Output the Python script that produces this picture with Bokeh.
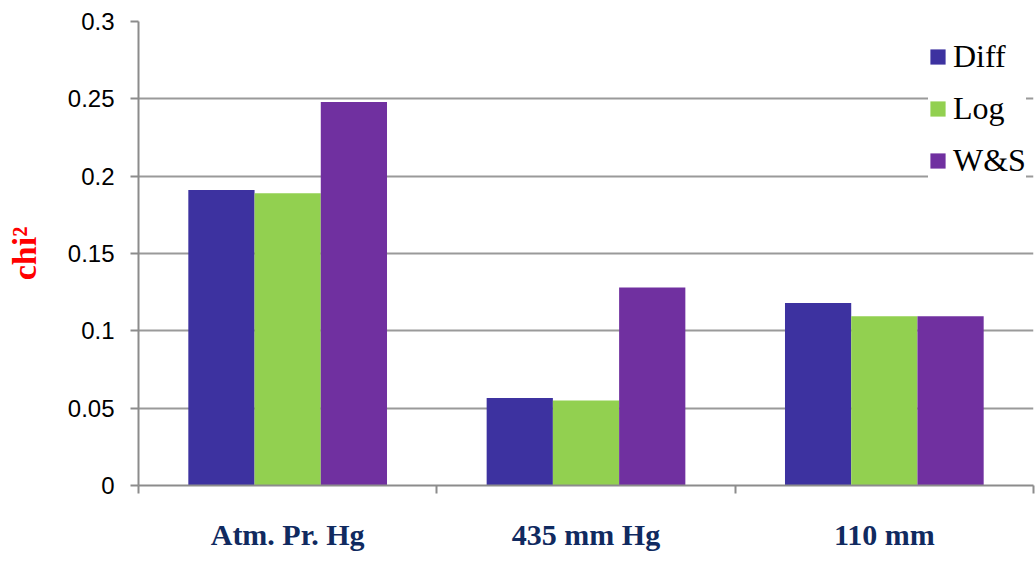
from bokeh.plotting import figure
from bokeh.models import Range1d, FixedTicker, Legend
from bokeh.embed import file_html
from bokeh.resources import INLINE

categories = ["Atm. Pr. Hg", "435 mm Hg", "110 mm"]
series_names = ["Diff", "Log", "W&S"]
diff_vals = [0.191, 0.0565, 0.118]
log_vals = [0.189, 0.055, 0.1095]
ws_vals = [0.248, 0.128, 0.1095]
y_ticks = [0, 0.05, 0.1, 0.15, 0.2, 0.25, 0.3]
y_tick_labels = ["0", "0.05", "0.1", "0.15", "0.2", "0.25", "0.3"]
colors = ["#3D32A0", "#92D050", "#7030A0"]

p = figure(width=1036, height=571, output_backend="svg", toolbar_location=None,
           x_range=Range1d(0, 3), y_range=Range1d(0, 0.3),
           min_border_left=138, min_border_right=3, min_border_top=21, min_border_bottom=86)
p.outline_line_color = None
p.background_fill_color = "white"
p.border_fill_color = "white"

bw = 0.222
offsets = [-bw, 0, bw]
centers = [i + 0.5 for i in range(len(categories))]
renderers = []
for vals, off, col, name in zip([diff_vals, log_vals, ws_vals], offsets, colors, series_names):
    r = p.vbar(x=[c + off for c in centers], top=vals, width=bw, fill_color=col, line_color=None)
    renderers.append((name, [r]))

legend = Legend(items=renderers, location=(790, 306))
legend.margin = 0
legend.padding = 9
legend.spacing = 15
legend.label_text_font = "Liberation Serif"
legend.label_text_font_size = "32px"
legend.label_text_color = "black"
legend.glyph_width = 19
legend.glyph_height = 19
legend.label_standoff = 6
legend.background_fill_color = "white"
legend.background_fill_alpha = 1
legend.border_line_color = None
p.add_layout(legend)

# y axis
p.yaxis.ticker = FixedTicker(ticks=y_ticks)
p.yaxis.major_label_overrides = {t: l for t, l in zip(y_ticks, y_tick_labels)}
p.yaxis.major_label_text_font = "Liberation Sans"
p.yaxis.major_label_text_font_size = "24px"
p.yaxis.major_label_text_color = "black"
p.yaxis.major_tick_in = 0
p.yaxis.major_tick_out = 8
p.yaxis.minor_tick_line_color = None
p.yaxis.major_tick_line_color = "#8c8c8c"
p.yaxis.axis_line_color = "#8c8c8c"
p.yaxis.major_tick_line_width = 2
p.yaxis.axis_line_width = 2
p.yaxis.major_label_standoff = 16
p.yaxis.axis_label = "chi²"
p.yaxis.axis_label_text_font = "Liberation Serif"
p.yaxis.axis_label_text_font_style = "bold"
p.yaxis.axis_label_text_font_size = "34px"
p.yaxis.axis_label_text_color = "red"
p.yaxis.axis_label_standoff = 22

# x axis: labels at category centres, tick marks at category boundaries
p.xaxis.ticker = FixedTicker(ticks=centers, minor_ticks=[0, 1, 2, 3])
p.xaxis.major_label_overrides = {c: l for c, l in zip(centers, categories)}
p.xaxis.major_label_text_font = "Liberation Serif"
p.xaxis.major_label_text_font_style = "bold"
p.xaxis.major_label_text_font_size = "30px"
p.xaxis.major_label_text_color = "#102A60"
p.xaxis.major_label_standoff = 24
p.xaxis.major_tick_line_color = None
p.xaxis.major_tick_in = 0
p.xaxis.major_tick_out = 0
p.xaxis.minor_tick_in = 0
p.xaxis.minor_tick_out = 8
p.xaxis.minor_tick_line_color = "#8c8c8c"
p.xaxis.minor_tick_line_width = 2
p.xaxis.axis_line_color = "#8c8c8c"
p.xaxis.axis_line_width = 2

p.xgrid.grid_line_color = None
p.ygrid.ticker = FixedTicker(ticks=y_ticks)
p.ygrid.grid_line_color = "#9a9a9a"
p.ygrid.grid_line_width = 2

open("out.html", "w").write(file_html(p, INLINE))
